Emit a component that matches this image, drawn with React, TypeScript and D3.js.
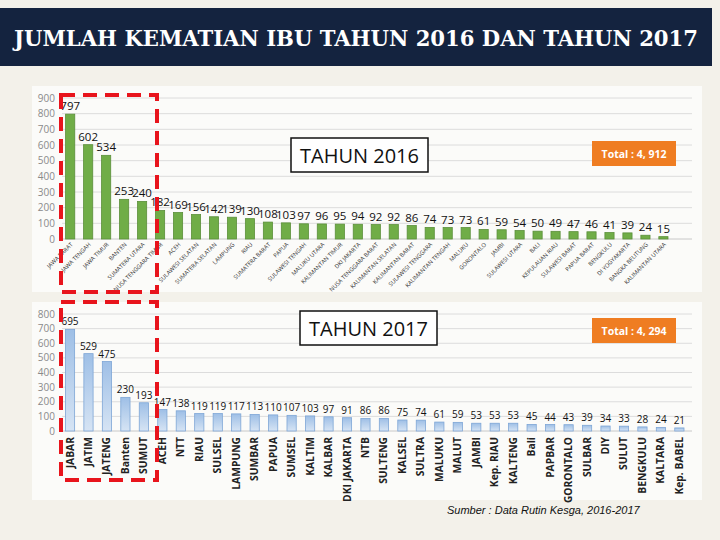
import * as d3 from "d3";

// 2016 data (provinces, sorted)
const provinces2016 = [
  "JAWA BARAT", "JAWA TENGAH", "JAWA TIMUR", "BANTEN", "SUMATERA UTARA",
  "NUSA TENGGARA TIMUR", "ACEH", "SULAWESI SELATAN", "SUMATERA SELATAN", "LAMPUNG",
  "RIAU", "SUMATERA BARAT", "PAPUA", "SULAWESI TENGAH", "MALUKU UTARA",
  "KALIMANTAN TIMUR", "DKI JAKARTA", "NUSA TENGGARA BARAT", "KALIMANTAN SELATAN", "KALIMANTAN BARAT",
  "SULAWESI TENGGARA", "KALIMANTAN TENGAH", "MALUKU", "GORONTALO", "JAMBI",
  "SULAWESI UTARA", "BALI", "KEPULAUAN RIAU", "SULAWESI BARAT", "PAPUA BARAT",
  "BENGKULU", "DI YOGYAKARTA", "BANGKA BELITUNG", "KALIMANTAN UTARA",
];
const deaths2016 = [
  797, 602, 534, 253, 240, 182, 169, 156, 142, 139, 130, 108, 103, 97, 96, 95, 94,
  92, 92, 86, 74, 73, 73, 61, 59, 54, 50, 49, 47, 46, 41, 39, 24, 15,
];
const ticks2016 = [0, 100, 200, 300, 400, 500, 600, 700, 800, 900];

// 2017 data
const provinces2017 = [
  "JABAR", "JATIM", "JATENG", "Banten", "SUMUT", "ACEH", "NTT", "RIAU", "SULSEL",
  "LAMPUNG", "SUMBAR", "PAPUA", "SUMSEL", "KALTIM", "KALBAR", "DKI JAKARTA", "NTB",
  "SULTENG", "KALSEL", "SULTRA", "MALUKU", "MALUT", "JAMBI", "Kep. RIAU", "KALTENG",
  "Bali", "PAPBAR", "GORONTALO", "SULBAR", "DIY", "SULUT", "BENGKULU", "KALTARA",
  "Kep. BABEL",
];
const deaths2017 = [
  695, 529, 475, 230, 193, 147, 138, 119, 119, 117, 113, 110, 107, 103, 97, 91, 86,
  86, 75, 74, 61, 59, 53, 53, 53, 45, 44, 43, 39, 34, 33, 28, 24, 21,
];
const ticks2017 = [0, 100, 200, 300, 400, 500, 600, 700, 800];

const W = 720;
const H = 540;
const label = "'Open Sans', 'Liberation Sans', sans-serif";

export default function App() {
  const x1 = d3.scaleBand<string>().domain(provinces2016).range([65.6, 668]).paddingInner(0.49);
  const y1 = d3.scaleLinear().domain([0, 900]).range([239, 98]);
  const x2 = d3.scaleBand<string>().domain(provinces2017).range([65.4, 684]).paddingInner(0.5);
  const y2 = d3.scaleLinear().domain([0, 800]).range([431, 314]);

  return (
    <svg width={W} height={H} style={{ position: "absolute", left: 0, top: 0 }}>
      <defs>
        <linearGradient id="blueBar" x1="0" y1="0" x2="0" y2="1">
          <stop offset="0%" stopColor="#9ebfe6" />
          <stop offset="100%" stopColor="#d6e4f4" />
        </linearGradient>
      </defs>
      <rect width={W} height={H} fill="#f3f1ea" />
      <rect x={0} y={8} width={712} height={58} fill="#14233f" />
      <text x={356} y={46} textAnchor="middle" fill="#fff" fontFamily="'DejaVu Serif', serif" fontWeight="bold"
        fontStretch="condensed" fontSize={23} textLength={684} lengthAdjust="spacingAndGlyphs">
        JUMLAH KEMATIAN IBU TAHUN 2016 DAN TAHUN 2017
      </text>

      {/* chart panels */}
      <rect x={32} y={86} width={670} height={206} fill="#fbfbf9" />
      <rect x={32} y={302} width={670} height={198} fill="#fbfbf9" />

      {/* top chart: 2016 */}
      {ticks2016.map((t) => (
        <g key={"g1" + t}>
          {t > 0 && <line x1={62} x2={692} y1={y1(t)} y2={y1(t)} stroke="#dcdcdc" />}
          <text x={55} y={y1(t) + 3.5} textAnchor="end" fontSize={10} fill="#8a8a8a" fontFamily={label}>{t}</text>
        </g>
      ))}
      <line x1={62} x2={692} y1={y1(0)} y2={y1(0)} stroke="#c8c8c8" />
      {provinces2016.map((p, i) => (
        <g key={p}>
          <rect x={x1(p)} y={y1(deaths2016[i])} width={x1.bandwidth()} height={y1(0) - y1(deaths2016[i])}
            fill="#70ad47" stroke="#5b8f3a" strokeWidth={0.8} />
          <text x={x1(p)! + x1.bandwidth() / 2} y={y1(deaths2016[i]) - 4} textAnchor="middle"
            fontSize={11.5} fill="#111" fontFamily={label}>{deaths2016[i]}</text>
          <text transform={`translate(${x1(p)! + x1.bandwidth() / 2 + 3},${y1(0) + 6}) rotate(-45)`}
            textAnchor="end" fontSize={5.8} fill="#333" fontFamily={label}>{p}</text>
        </g>
      ))}

      {/* bottom chart: 2017 */}
      {ticks2017.map((t) => (
        <g key={"g2" + t}>
          {t > 0 && <line x1={62} x2={692} y1={y2(t)} y2={y2(t)} stroke="#dcdcdc" />}
          <text x={55} y={y2(t) + 3.5} textAnchor="end" fontSize={10} fill="#8a8a8a" fontFamily={label}>{t}</text>
        </g>
      ))}
      <line x1={62} x2={692} y1={y2(0)} y2={y2(0)} stroke="#c8c8c8" />
      {provinces2017.map((p, i) => (
        <g key={p}>
          <rect x={x2(p)} y={y2(deaths2017[i])} width={x2.bandwidth()} height={y2(0) - y2(deaths2017[i])}
            fill="url(#blueBar)" stroke="#7ea6d6" strokeWidth={0.8} />
          <text x={x2(p)! + x2.bandwidth() / 2} y={y2(deaths2017[i]) - 4} textAnchor="middle"
            fontSize={10} fill="#111" fontFamily={label}>{deaths2017[i]}</text>
          <text transform={`translate(${x2(p)! + x2.bandwidth() / 2 + 3.5},${y2(0) + 6}) rotate(-90)`}
            textAnchor="end" fontSize={10.3} fontWeight="bold" fill="#222" fontFamily={label}>{p}</text>
        </g>
      ))}

      {/* year boxes */}
      <rect x={291} y={138} width={137} height={34} fill="#fff" stroke="#111" strokeWidth={1.5} />
      <text x={359.5} y={163} textAnchor="middle" fontSize={20} fill="#111" fontFamily={label}>TAHUN 2016</text>
      <rect x={300} y={311} width={137} height={34} fill="#fff" stroke="#111" strokeWidth={1.5} />
      <text x={368.5} y={336} textAnchor="middle" fontSize={20} fill="#111" fontFamily={label}>TAHUN 2017</text>

      <rect x={592} y={141} width={84} height={25} fill="#ef7d22" />
      <text x={634} y={157.5} textAnchor="middle" fontSize={10.5} fontWeight="bold" fill="#fff" fontFamily={label}>Total : 4, 912</text>
      <rect x={592} y={318} width={84} height={25} fill="#ef7d22" />
      <text x={634} y={334.5} textAnchor="middle" fontSize={10.5} fontWeight="bold" fill="#fff" fontFamily={label}>Total : 4, 294</text>

      {/* highlight rectangles */}
      <rect x={61} y={95} width={96} height={197} fill="none" stroke="#e8141c" strokeWidth={4} strokeDasharray="14 8" />
      <rect x={61} y={302} width={96} height={178} fill="none" stroke="#e8141c" strokeWidth={4} strokeDasharray="14 8" />

      <text x={447} y={514} fontSize={11} fontStyle="italic" fill="#111" fontFamily="'Liberation Sans', sans-serif">
        Sumber : Data Rutin Kesga, 2016-2017
      </text>
    </svg>
  );
}
